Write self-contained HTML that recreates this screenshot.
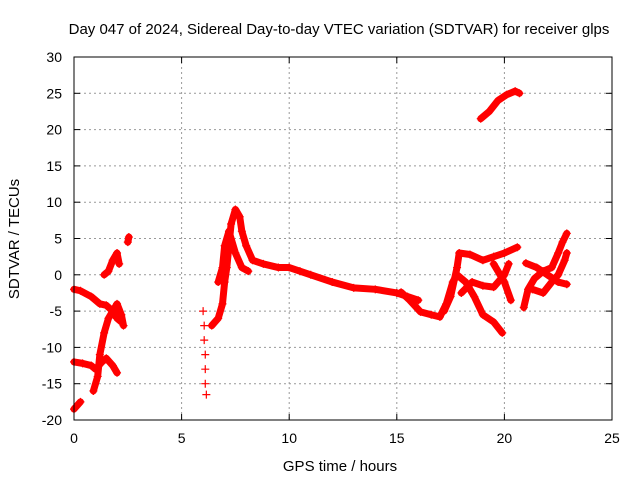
<!DOCTYPE html>
<html><head><meta charset="utf-8"><style>
body{margin:0;background:#fff;}
svg{display:block;font-family:"Liberation Sans",sans-serif;}
</style></head><body>
<svg id="chart" width="640" height="480" viewBox="0 0 640 480" xmlns="http://www.w3.org/2000/svg">
<text x="339" y="34" font-size="15" text-anchor="middle">Day 047 of 2024, Sidereal Day-to-day VTEC variation (SDTVAR) for receiver glps</text>
<text x="340" y="471" font-size="15" text-anchor="middle">GPS time / hours</text>
<text transform="translate(19,239) rotate(-90)" font-size="15" text-anchor="middle">SDTVAR / TECUs</text>
<g id="grid"></g>
<g id="ticks"></g>
<g id="marks"></g>
<rect x="74" y="57" width="538" height="363" fill="none" stroke="#000" stroke-width="1"/>
</svg>
<script>
const xTicks=[0,5,10,15,20,25];
const yTicks=[-20,-15,-10,-5,0,5,10,15,20,25,30];
const trackA1=[[0,-12],[0.4,-12.2],[0.8,-12.5],[1.0,-13],[1.3,-12],[1.5,-11.5],[1.8,-12.5],[2.0,-13.5]];
const trackA2=[[0.9,-16],[1.1,-14],[1.2,-11],[1.4,-8],[1.6,-6],[1.8,-5],[2.0,-4],[2.2,-5.5],[2.3,-7]];
const trackB=[[0,-2],[0.3,-2.2],[0.8,-3],[1.2,-4],[1.5,-4.2],[1.8,-5],[2.0,-6],[2.2,-6.5]];
const trackC=[[1.4,0],[1.6,0.5],[1.8,2],[2.0,3],[2.1,1.5]];
const trackC2=[[2.5,4.5],[2.55,5.2]];
const trackD=[[0,-18.5],[0.3,-17.5]];
const trackE=[[6.0,-5],[6.05,-7],[6.05,-9],[6.1,-11],[6.1,-13],[6.1,-15],[6.15,-16.5]];
const trackF=[[6.4,-7],[6.7,-6],[6.9,-4],[7.0,-1],[7.1,1],[7.2,4],[7.3,7],[7.5,9],[7.7,8],[7.8,6],[8.0,4],[8.3,2],[8.8,1.5],[9.5,1],[10,1],[10.5,0.5],[11,0],[12,-1],[13,-1.8],[14,-2],[15,-2.5],[15.5,-3],[16,-3.5]];
const trackF2=[[6.7,-1],[6.9,1],[7.0,4],[7.2,6],[7.5,3],[7.8,1],[8.1,0.5]];
const trackG1=[[15.2,-2.4],[15.6,-3.5],[16.1,-5.1],[16.6,-5.5],[17.0,-5.8],[17.3,-4],[17.6,-1],[17.8,0],[18.2,-1],[18.6,-3],[19.0,-5.5],[19.5,-6.5],[19.9,-8]];
const trackG2=[[17.2,-5],[17.5,-3],[17.8,1],[17.9,3],[18.4,2.8],[19.0,2],[19.5,2.5],[20.0,3],[20.6,3.8]];
const trackG3=[[18.0,-2.5],[18.5,-1],[19.0,-1.5],[19.5,-1.7],[20.0,0],[20.2,1.5]];
const trackG4=[[19.5,1.5],[20.0,-1],[20.3,-3.5]];
const trackH=[[20.9,-4.5],[21.1,-2],[21.4,-0.5],[21.8,0.5],[22.2,1],[22.5,3],[22.7,4.5],[22.9,5.7]];
const trackH2=[[21.0,1.6],[21.5,1],[22.0,0],[22.5,-1],[22.9,-1.3]];
const trackH3=[[21.3,-2],[21.8,-2.5],[22.2,-1],[22.5,0],[22.8,2],[22.9,3]];
const trackTop=[[18.9,21.5],[19.3,22.5],[19.7,24],[20.1,24.8],[20.5,25.3],[20.7,25]];

const NS="http://www.w3.org/2000/svg";
const X=t=>74+t*21.52, Y=v=>57+(30-v)*7.26;
const grid=document.getElementById('grid'),ticks=document.getElementById('ticks'),marks=document.getElementById('marks');
function mk(tag,attrs,parent){const e=document.createElementNS(NS,tag);for(const k in attrs)e.setAttribute(k,attrs[k]);parent.appendChild(e);return e;}
xTicks.forEach(t=>{
  const x=X(t);
  if(t>0&&t<25){const g=mk('line',{x1:x,x2:x,y1:57,y2:420,stroke:'#999','stroke-dasharray':'2,3'},grid);}
  mk('line',{x1:x,x2:x,y1:420,y2:414,stroke:'#000'},ticks);
  mk('line',{x1:x,x2:x,y1:57,y2:63,stroke:'#000'},ticks);
  const l=mk('text',{x:x,y:443,'font-size':14,'text-anchor':'middle'},ticks);l.textContent=t;
  
});
yTicks.forEach(v=>{
  const y=Y(v);
  if(v>-20&&v<30){const g=mk('line',{x1:74,x2:612,y1:y,y2:y,stroke:'#999','stroke-dasharray':'2,3'},grid);}
  mk('line',{x1:74,x2:80,y1:y,y2:y,stroke:'#000'},ticks);
  mk('line',{x1:606,x2:612,y1:y,y2:y,stroke:'#000'},ticks);
  const l=mk('text',{x:62,y:y+5,'font-size':14,'text-anchor':'end'},ticks);l.textContent=v;
  
});
const tracks=[trackA1,trackA2,trackB,trackC,trackC2,trackD,trackF,trackF2,trackG1,trackG2,trackG3,trackG4,trackH,trackH2,trackH3,trackTop];
tracks.forEach(tr=>{
  const p=mk('polyline',{points:tr.map(d=>X(d[0])+','+Y(d[1])).join(' '),fill:'none',stroke:'#f00','stroke-width':7,'stroke-linejoin':'round','stroke-linecap':'round'},marks);
  
  
});
tracks.concat([trackE]).forEach(tr=>tr.forEach(d=>{
  const x=X(d[0]),y=Y(d[1]);
  const m=mk('path',{d:`M${x-4},${y}H${x+4}M${x},${y-4}V${y+4}`,stroke:'#f00','stroke-width':1.2},marks);
  
  
}));
</script>
</body></html>
